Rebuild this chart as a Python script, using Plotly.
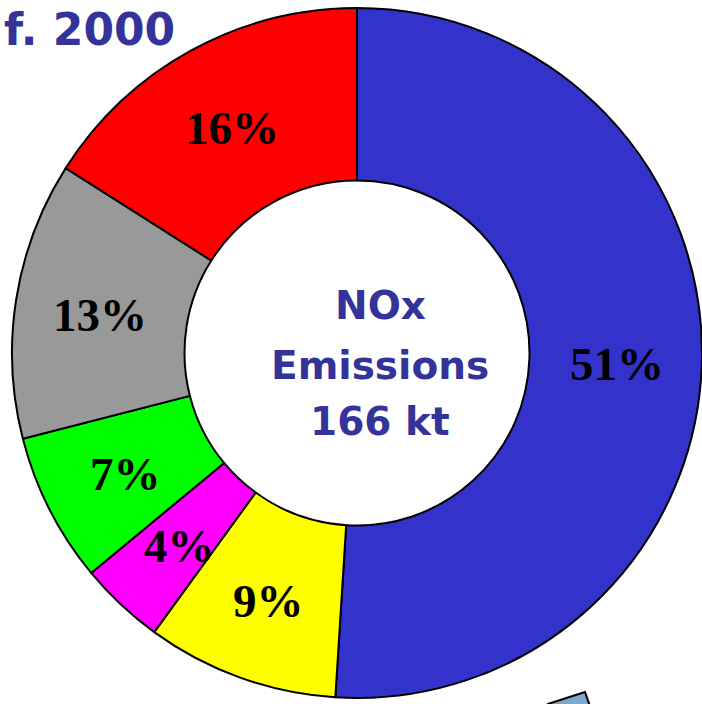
import math
import plotly.graph_objects as go

# NOx emission shares by source (percent), clockwise from 12 o'clock
shares = [51, 9, 4, 7, 13, 16]
colors = ["#3333CC", "#FFFF00", "#FF00FF", "#00FF00", "#999999", "#FF0000"]

center_lines = ["NOx", "Emissions", "166 kt"]
title_text = "f. 2000"

W, H = 702, 704
CX, CY = 357, 353          # ring centre in pixels
R_OUT = 345
LABEL_R = 260              # radius at which the share labels sit


def px(x):
    return x / W


def py(y):
    return 1 - y / H


fig = go.Figure(
    go.Pie(
        values=shares,
        textinfo="none",
        sort=False,
        direction="clockwise",
        rotation=0,
        hole=0.5,
        marker=dict(colors=colors, line=dict(color="#000000", width=2)),
        domain=dict(x=[px(CX - R_OUT), 1.0], y=[py(CY + R_OUT), py(CY - R_OUT)]),
        showlegend=False,
        hoverinfo="skip",
    )
)

annotations = []

# share labels at the mid-angle of each slice
total = sum(shares)
cum = 0.0
for v in shares:
    mid = (cum + v / 2) / total * 2 * math.pi
    cum += v
    lx = CX + LABEL_R * math.sin(mid)
    ly = CY - LABEL_R * math.cos(mid) + 3
    annotations.append(
        dict(
            text=f"<b>{v}%</b>",
            x=px(lx),
            y=py(ly),
            xref="paper",
            yref="paper",
            xanchor="center",
            yanchor="middle",
            showarrow=False,
            font=dict(family="Liberation Serif, Times New Roman, serif",
                      size=47, color="#000000"),
        )
    )

# centre caption, one annotation per line for tight spacing
line_y = [305, 365, 421]
for txt, yy in zip(center_lines, line_y):
    annotations.append(
        dict(
            text=f"<b>{txt}</b>",
            x=px(380),
            y=py(yy),
            xref="paper",
            yref="paper",
            xanchor="center",
            yanchor="middle",
            showarrow=False,
            font=dict(family="DejaVu Sans", size=39, color="#333399"),
        )
    )

annotations.append(
    dict(
        text=f"<b>{title_text}</b>",
        x=px(2),
        y=py(2),
        xref="paper",
        yref="paper",
        xanchor="left",
        yanchor="top",
        showarrow=False,
        font=dict(family="DejaVu Sans", size=44, color="#333399"),
    )
)

shapes = [
    dict(
        type="path",
        xref="paper",
        yref="paper",
        path=(
            f"M {px(540)},{py(712)} L {px(548)},{py(704)} "
            f"L {px(585)},{py(692)} L {px(592)},{py(712)} Z"
        ),
        fillcolor="#7FA6CF",
        line=dict(color="#000000", width=2),
    )
]

fig.update_layout(
    width=W,
    height=H,
    margin=dict(l=0, r=0, t=0, b=0),
    paper_bgcolor="#FFFFFF",
    plot_bgcolor="#FFFFFF",
    annotations=annotations,
    shapes=shapes,
)

fig.write_html("out.html")
